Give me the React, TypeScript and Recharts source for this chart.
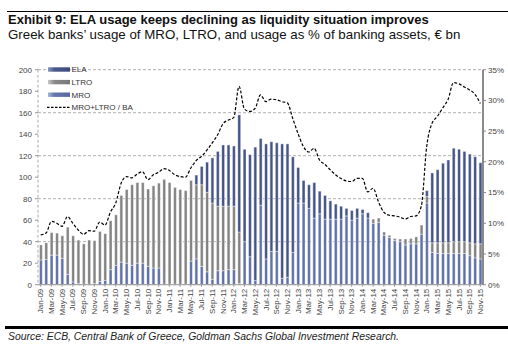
import React from 'react';
import { ComposedChart, Bar, Line, XAxis, YAxis, CartesianGrid } from 'recharts';

const months = [
  'Jan-09','Feb-09','Mar-09','Apr-09','May-09','Jun-09','Jul-09','Aug-09','Sep-09','Oct-09','Nov-09','Dec-09',
  'Jan-10','Feb-10','Mar-10','Apr-10','May-10','Jun-10','Jul-10','Aug-10','Sep-10','Oct-10','Nov-10','Dec-10',
  'Jan-11','Feb-11','Mar-11','Apr-11','May-11','Jun-11','Jul-11','Aug-11','Sep-11','Oct-11','Nov-11','Dec-11',
  'Jan-12','Feb-12','Mar-12','Apr-12','May-12','Jun-12','Jul-12','Aug-12','Sep-12','Oct-12','Nov-12','Dec-12',
  'Jan-13','Feb-13','Mar-13','Apr-13','May-13','Jun-13','Jul-13','Aug-13','Sep-13','Oct-13','Nov-13','Dec-13',
  'Jan-14','Feb-14','Mar-14','Apr-14','May-14','Jun-14','Jul-14','Aug-14','Sep-14','Oct-14','Nov-14','Dec-14',
  'Jan-15','Feb-15','Mar-15','Apr-15','May-15','Jun-15','Jul-15','Aug-15','Sep-15','Oct-15','Nov-15',
];

// € bn
const mro = [
  23, 23.5, 27.5, 27.5, 24.5, 9.5, 2.5, 1, 0.5, 0.5, 1, 3,
  4, 14, 18, 21, 20, 18, 20, 20, 17, 15.5, 15.5, 0.5,
  0.5, 0.5, 0.5, 0.5, 22, 24, 17, 12, 5, 13, 13, 14,
  14, 1, 40, 26, 4, 74, 24, 31, 31, 6, 7, 30,
  76, 76, 71, 62, 66, 61, 61, 61, 61, 64, 60, 62,
  66, 62, 57, 58, 46, 44, 41, 40, 37, 38, 38, 47,
  76, 30, 29, 29, 29, 29, 29, 29, 27, 25, 24,
];
const ltro = [
  14, 15.5, 21, 20.5, 21, 44, 43, 40.5, 37.5, 41, 40, 46.5,
  43.5, 45.5, 47, 62, 68.5, 75, 75, 75, 72, 76.5, 79, 97.5,
  94.5, 90, 88, 87, 75, 69, 76, 74, 71, 60, 60, 59,
  59, 48, 0, 0, 0, 0, 0, 0, 0, 0, 0, 0,
  0, 0, 0, 0, 0, 0, 0, 0, 0, 0, 0, 0,
  0, 0, 4, 4, 3, 2, 2, 2.5, 5.5, 5, 6.5, 8.5,
  6, 9, 10, 10, 10, 11, 11, 11, 12, 13, 14,
];
const ela = [
  0, 0, 0, 0, 0, 0, 0, 0, 0, 0, 0, 0,
  0, 0, 0, 0, 0, 0, 0, 0, 0, 0, 0, 0,
  0, 0, 0, 0, 0, 9, 17, 28, 42, 51, 57, 57,
  56, 109, 86, 95, 124, 62, 107, 102, 101, 125, 124, 89,
  33, 21, 22, 33, 21, 22, 17, 14, 12, 7, 9, 9,
  4, 5, 0, 0, 0, 0, 0, 0, 0, 0, 0, 0,
  5.5, 65, 68, 74, 77, 87, 86, 84, 82.5, 81, 75.5,
];
// MRO+LTRO / BA, %
const ratio = [
  8.1, 8.4, 10.3, 10.0, 9.5, 11.1, 10.0, 8.9, 8.2, 8.8, 8.7, 10.2,
  9.7, 11.8, 13.3, 16.5, 17.6, 17.4, 18.0, 18.4, 17.1, 17.9, 18.3, 18.9,
  18.6, 17.9, 17.6, 17.5, 19.0, 20.2, 20.9, 21.9, 23.1, 24.4, 26.2, 26.8,
  27.2, 32.3, 28.6, 28.2, 28.7, 30.9, 29.8, 30.2, 30.1, 29.8, 29.6, 27.1,
  24.6, 22.5, 21.6, 22.2, 20.3, 19.6, 18.7, 17.9, 17.3, 16.9, 16.8, 17.3,
  17.3, 15.1, 15.7, 13.5, 11.8, 11.3, 11.2, 11.0, 10.7, 11.1, 11.2, 12.8,
  22.5, 26.3, 27.4, 28.8, 30.2, 32.9, 32.7, 32.2, 31.7, 31.0, 29.5,
];

const leftTicks = [0, 20, 40, 60, 80, 100, 120, 140, 160, 180, 200];
const rightTicks = [0, 5, 10, 15, 20, 25, 30, 35];
const legendItems = ['ELA', 'LTRO', 'MRO', 'MRO+LTRO / BA'];

const data = months.map((m, i) => ({ month: m, MRO: mro[i], LTRO: ltro[i], ELA: ela[i], ratio: ratio[i] }));

const FONT = '"Liberation Sans", Arial, sans-serif';

function RotTick(props: any) {
  const { x, y, payload } = props;
  return (
    <text x={0} y={0} transform={`translate(${x},${y}) rotate(-90)`} textAnchor="end" dy="0.33em"
      fontSize={8} fill="#444" fontFamily={FONT}>
      {payload.value}
    </text>
  );
}

function LegendBox() {
  const fills = ['url(#gELA)', 'url(#gLTRO)', 'url(#gMRO)', ''];
  return (
    <svg width={130} height={52} style={{ display: 'block' }}>
      {legendItems.map((label, i) => {
        const cy = 6.5 + i * 12.6;
        return (
          <g key={label}>
            {i < 3 ? (
              <rect x={2} y={cy - 2.2} width={22} height={4.4} fill={fills[i]} />
            ) : (
              <line x1={1} x2={24} y1={cy} y2={cy} stroke="#000" strokeWidth={1.2} strokeDasharray="2.5 1.5" />
            )}
            <text x={25.5} y={cy} dy="0.35em" fontSize={8} fill="#333" fontFamily={FONT}>{label}</text>
          </g>
        );
      })}
    </svg>
  );
}

export default function App() {
  return (
    <div style={{ position: 'absolute', left: 0, top: 0, width: 508, height: 356, background: '#fff', fontFamily: FONT, overflow: 'hidden' }}>
      <div style={{ position: 'absolute', left: 7, top: 11, width: 501, height: 1, background: '#000' }} />
      <div style={{ position: 'absolute', left: 8, top: 13, fontSize: 13, fontWeight: 'bold', color: '#111', whiteSpace: 'nowrap', lineHeight: '14px' }}>
        Exhibit 9: ELA usage keeps declining as liquidity situation improves
      </div>
      <div style={{ position: 'absolute', left: 8, top: 27, fontSize: 13.3, color: '#111', whiteSpace: 'nowrap', lineHeight: '15px' }}>
        Greek banks’ usage of MRO, LTRO, and usage as % of banking assets, € bn
      </div>
      <div style={{ position: 'absolute', left: 0, top: 0 }}>
        <ComposedChart width={508} height={356} data={data}
          margin={{ top: 69.7, right: 0, left: 0, bottom: 41.3 }} barCategoryGap="24%">
          <defs>
            <linearGradient id="gELA" x1="0" y1="0" x2="1" y2="0">
              <stop offset="0%" stopColor="#8c98c2" />
              <stop offset="28%" stopColor="#4a5a8c" />
              <stop offset="100%" stopColor="#3d4b7b" />
            </linearGradient>
            <linearGradient id="gMRO" x1="0" y1="0" x2="1" y2="0">
              <stop offset="0%" stopColor="#aab5da" />
              <stop offset="28%" stopColor="#6676ac" />
              <stop offset="100%" stopColor="#5768a0" />
            </linearGradient>
            <linearGradient id="gLTRO" x1="0" y1="0" x2="1" y2="0">
              <stop offset="0%" stopColor="#c9c9c9" />
              <stop offset="28%" stopColor="#8a8a8a" />
              <stop offset="100%" stopColor="#777777" />
            </linearGradient>
          </defs>
          <CartesianGrid vertical={false} stroke="#b0b0b0" strokeDasharray="3 2" yAxisId="left" />
          <XAxis dataKey="month" interval={1} tick={<RotTick />} tickSize={2} tickMargin={2} height={30}
            axisLine={{ stroke: '#999' }} tickLine={{ stroke: '#999' }} />
          <YAxis yAxisId="left" domain={[0, 200]} ticks={leftTicks} width={38} tickSize={3} tickMargin={3}
            axisLine={{ stroke: '#aaa', strokeDasharray: '3 2' }} tickLine={{ stroke: '#999' }}
            tick={{ fontSize: 8, fill: '#444', fontFamily: FONT }} />
          <YAxis yAxisId="right" orientation="right" domain={[0, 35]} ticks={rightTicks} width={25} tickSize={3} tickMargin={2}
            tickFormatter={(v: number) => `${v}%`}
            axisLine={{ stroke: '#8a8a8a', strokeWidth: 2 }} tickLine={{ stroke: '#8a8a8a' }}
            tick={{ fontSize: 8, fill: '#444', fontFamily: FONT, textAnchor: 'start' }} />
          <Bar yAxisId="left" dataKey="MRO" stackId="s" fill="url(#gMRO)" stroke="#fff" strokeWidth={0.4} isAnimationActive={false} />
          <Bar yAxisId="left" dataKey="LTRO" stackId="s" fill="url(#gLTRO)" stroke="#fff" strokeWidth={0.4} isAnimationActive={false} />
          <Bar yAxisId="left" dataKey="ELA" stackId="s" fill="url(#gELA)" stroke="#fff" strokeWidth={0.4} isAnimationActive={false} />
          <Line yAxisId="right" dataKey="ratio" type="monotone" stroke="#000" strokeWidth={1.2} strokeDasharray="3 1.8"
            dot={false} activeDot={false} isAnimationActive={false} />
        </ComposedChart>
      </div>
      <div style={{ position: 'absolute', left: 46, top: 63 }}>
        <LegendBox />
      </div>
      <div style={{ position: 'absolute', left: 5, top: 326, width: 503, height: 2.5, background: '#000' }} />
      <div style={{ position: 'absolute', left: 8, top: 331, fontSize: 10.4, fontStyle: 'italic', color: '#222', whiteSpace: 'nowrap', lineHeight: '12px' }}>
        Source: ECB, Central Bank of Greece, Goldman Sachs Global Investment Research.
      </div>
    </div>
  );
}
